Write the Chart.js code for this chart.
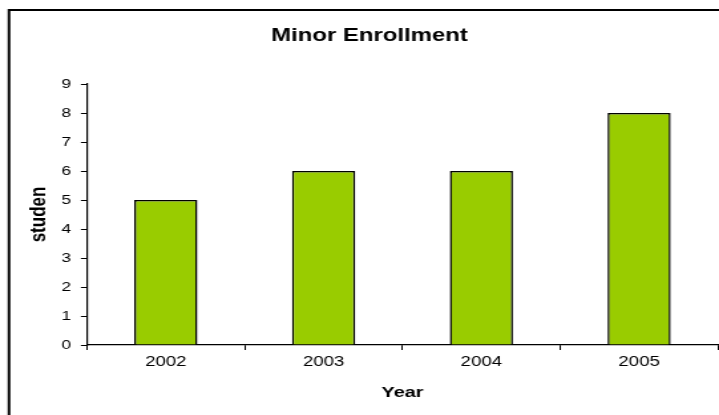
<!DOCTYPE html>
<html>
<head>
<meta charset="utf-8">
<script src="https://cdn.jsdelivr.net/npm/chart.js@4.4.0/dist/chart.umd.min.js"></script>
<style>
  html, body { margin: 0; padding: 0; background: #fff; overflow: hidden; }
  #grafico { display: block; transform-origin: 0 0; }
</style>
</head>
<body>
<canvas id="grafico"></canvas>
<script>
// Dados do gráfico
const anos = ['2002', '2003', '2004', '2005'];
const alunos = [5, 6, 6, 8];
const marcasY = [0, 1, 2, 3, 4, 5, 6, 7, 8, 9];

// O original é esticado na horizontal
const S = 1.33;
const W = Math.round(719 / S);
const H = 415;
const fonte = "'Liberation Sans', Arial, sans-serif";

const canvas = document.getElementById('grafico');
canvas.width = W;
canvas.height = H;
canvas.style.width = W + 'px';
canvas.style.height = H + 'px';
canvas.style.transform = 'scaleX(' + (719 / W) + ')';

// Moldura do gráfico (estilo Excel)
const moldura = {
    id: 'moldura',
    beforeDraw(chart) {
        const ctx = chart.ctx;
        ctx.save();
        ctx.fillStyle = '#fff';
        ctx.fillRect(0, 0, W, H);
        ctx.strokeStyle = '#000';
        ctx.lineWidth = 2;
        ctx.strokeRect(9 / S, 10, W + 20, H + 20);
        ctx.restore();
    }
};

const padEsq = 21 / S;

new Chart(canvas, {
    type: 'bar',
    data: {
        labels: anos,
        datasets: [{
            label: 'studen',
            data: alunos,
            backgroundColor: '#99cc00',
            borderColor: '#000',
            borderWidth: 1.5,
            barPercentage: 0.4,
            categoryPercentage: 1
        }]
    },
    options: {
        responsive: false,
        animation: false,
        devicePixelRatio: 1,
        layout: { padding: { left: padEsq, right: 1 / S, top: 0, bottom: 0 } },
        plugins: {
            legend: { display: false },
            tooltip: { enabled: false },
            title: {
                display: true,
                text: 'Minor Enrollment',
                color: '#000',
                font: { family: fonte, size: 18, weight: 'bold' },
                padding: { top: 25.2, bottom: 37.2 }
            }
        },
        scales: {
            x: {
                offset: true,
                grid: {
                    offset: true,
                    drawOnChartArea: false,
                    drawTicks: true,
                    tickLength: 5,
                    color: '#000'
                },
                border: { display: true, color: '#000', width: 1.2 },
                ticks: {
                    color: '#000',
                    padding: 3.5,
                    font: { family: fonte, size: 14 }
                },
                title: {
                    display: true,
                    text: 'Year',
                    color: '#000',
                    font: { family: fonte, size: 15, weight: 'bold' },
                    padding: { top: 0, bottom: 13 }
                },
                afterFit(scale) { scale.height = 70; }
            },
            y: {
                min: 0,
                max: 9,
                grid: {
                    drawOnChartArea: false,
                    drawTicks: true,
                    tickLength: 6 / S,
                    color: '#000'
                },
                border: { display: true, color: '#000', width: 1.2 },
                afterBuildTicks(scale) {
                    scale.ticks = marcasY.map(v => ({ value: v }));
                },
                ticks: {
                    color: '#000',
                    padding: 10 / S,
                    font: { family: fonte, size: 13 }
                },
                title: {
                    display: true,
                    text: 'studen',
                    color: '#000',
                    font: { family: fonte, size: 17, weight: 'bold' },
                    padding: { top: 3.8, bottom: 0 }
                },
                afterFit(scale) { scale.width = 87 / S - padEsq; }
            }
        }
    },
    plugins: [moldura]
});
</script>
</body>
</html>
